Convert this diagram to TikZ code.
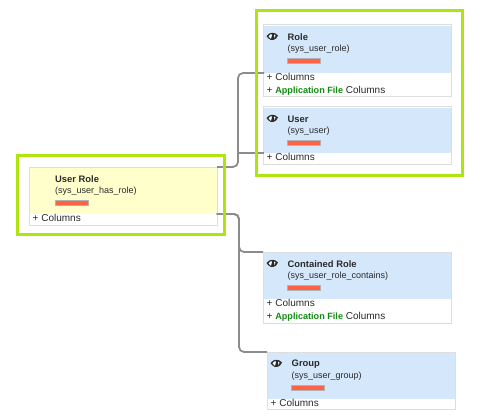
\documentclass[tikz,border=0pt]{standalone}
\usepackage{fontspec}
\usepackage{xcolor}
\setmainfont{Liberation Sans}
\definecolor{FrameGreen}{HTML}{AEE511}
\definecolor{HeadBlue}{HTML}{D5E7FB}
\definecolor{HeadYellow}{HTML}{FFFFCC}
\definecolor{BarRed}{HTML}{FF6347}
\definecolor{BoxGrey}{HTML}{DEDEDE}
\definecolor{LinkGrey}{HTML}{8C8C8C}
\definecolor{FileGreen}{HTML}{118A11}
\definecolor{InkGrey}{HTML}{2A2A2A}
\tikzset{
  tablebox/.style={draw=BoxGrey,line width=1pt,fill=white,anchor=north west,inner sep=0pt,outer sep=0pt,minimum width=188pt},
  headbox/.style={anchor=north west,inner sep=0pt,outer sep=0pt,minimum width=186.5pt},
  titletext/.style={anchor=west,inner sep=0pt,text=InkGrey,font=\fontsize{9.4}{11}\selectfont\bfseries},
  subtext/.style={anchor=west,inner sep=0pt,text=InkGrey,font=\fontsize{9}{10}\selectfont},
  rowtext/.style={anchor=west,inner sep=0pt,text=InkGrey,font=\fontsize{10}{12}\selectfont},
  redbar/.style={draw=black!30,line width=0.7pt,fill=BarRed,anchor=north west,inner sep=0pt,outer sep=0pt,minimum width=33pt,minimum height=5pt},
  greenframe/.style={draw=FrameGreen,line width=3pt,anchor=north west,inner sep=0pt,outer sep=0pt},
  rel/.style={draw=LinkGrey,line width=1.8pt,rounded corners=5pt},
}
\begin{document}
\begin{tikzpicture}[x=1pt,y=-1pt]
    \useasboundingbox (0,0) rectangle (488,420);
    % tables: name/left/top/height/head height/head colour/text offset/title/table
    \foreach \nm/\nx/\ny/\nh/\nhh/\hc/\tx/\ttl/\tbl in {
      userrole/29/167/58/46/HeadYellow/26/User Role/sys\_user\_has\_role,
      role/263/25/72/47/HeadBlue/24.5/Role/sys\_user\_role,
      user/263/107/57/45/HeadBlue/24.5/User/sys\_user,
      contained/263/252/71/46/HeadBlue/24.5/Contained Role/sys\_user\_role\_contains,
      group/267/352/57/46/HeadBlue/24.5/Group/sys\_user\_group}{
      \node[tablebox,minimum height=\nh] (\nm) at (\nx,\ny) {};
      \node[headbox,fill=\hc,minimum height=\nhh] (\nm-head) at (\nx+1,\ny+1) {};
      \node[titletext] (\nm-title) at (\nx+\tx,\ny+12) {\ttl};
      \node[subtext] (\nm-sub) at (\nx+\tx,\ny+24) {(\tbl)};
      \node[redbar] (\nm-bar) at (\nx+\tx,\ny+33) {};
      \node[rowtext] (\nm-cols) at (\nx+3.5,\ny+\nhh+5) {+ Columns};
    }
    % extra rows
    \foreach \nm in {role,contained}{
      \node[rowtext,anchor=north west,yshift=-5.5pt] (\nm-file) at (\nm-cols.south west)
        {+ \textcolor{FileGreen}{\fontsize{9.1}{12}\selectfont\textbf{Application File}} Columns};
    }
    % eye icons
    \foreach \nm in {role,user,contained,group}{
      \begin{scope}[shift={(\nm.north west)}]
        \fill[InkGrey] (3.5,11) .. controls (7,6.5) and (12,7) .. (15,10.5)
          .. controls (13,15.5) and (8,16.5) .. (5,13) -- cycle;
        \fill[white] (5.5,11.5) .. controls (7,9) and (8,9) .. (9,9.5) -- (8,14) .. controls (7,13.5) and (6,13) .. (5.5,11.5) -- cycle;
        \fill[white] (12.5,10.5) .. controls (12,9.5) and (11.5,9.5) .. (11,9.5) -- (11.5,13) -- cycle;
      \end{scope}
    }
    % links
    \coordinate (trunkup) at (238,120);
    \coordinate (trunkdown) at (239,300);
    \draw[rel] (userrole.north east) -| (trunkup |- role-head.south west) -- (role-head.south west);
    \draw[rel,sharp corners] (user-head.south west) -- (user-head.south west -| trunkup);
    \draw[rel] (userrole-head.south east) -| (trunkdown |- contained.north west) -- (contained.north west);
    \draw[rel] (userrole-head.south east) -| (trunkdown |- group.north west) -- (group.north west);
    % highlight frames
    \node[greenframe,minimum width=207pt,minimum height=78pt] (userframe) at (17,156) {};
    \node[greenframe,minimum width=206pt,minimum height=164pt] (relframe) at (256,11) {};
\end{tikzpicture}
\end{document}
